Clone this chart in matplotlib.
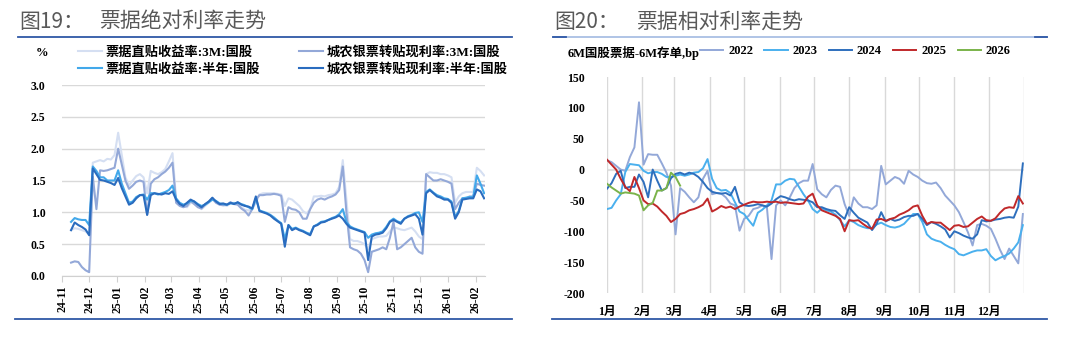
import matplotlib
matplotlib.use('Agg')
import matplotlib.pyplot as plt
from matplotlib.lines import Line2D
import numpy as np
import pandas as pd

plt.rcParams['font.family'] = ['Liberation Serif', 'Noto Sans CJK SC', 'DejaVu Sans']
plt.rcParams['font.weight'] = 'bold'
plt.rcParams['axes.unicode_minus'] = False

# ---------------- Left chart data (every 4 days from 2024-11-11) ----------------
left_start = '2024-11-11'
left_n = 115
bill_3m = [0.72, 0.75, 0.74, 0.72, 0.70, 0.66,
           1.78, 1.80, 1.82, 1.80, 1.84, 1.83, 1.90,
           2.25, 1.90, 1.55, 1.42, 1.50, 1.57, 1.60, 1.55,
           1.30, 1.65, 1.62, 1.60, 1.63, 1.68, 1.80, 1.93,
           1.20, 1.12, 1.10, 1.08, 1.15, 1.14, 1.10, 1.05, 1.10, 1.15, 1.20, 1.16, 1.12, 1.12, 1.10, 1.14, 1.15, 1.13, 1.08, 1.04, 1.03, 1.05,
           1.15, 1.28, 1.30, 1.30, 1.30, 1.30, 1.29, 1.28,
           1.10, 1.22, 1.20, 1.15, 1.10, 1.02, 0.98, 1.05, 1.25, 1.25, 1.26, 1.25, 1.27, 1.28, 1.30, 1.40, 1.82, 1.20,
           0.58, 0.55, 0.55, 0.53, 0.50, 0.42, 0.58, 0.60, 0.62, 0.62, 0.63, 0.70, 0.76, 0.75, 0.73, 0.72, 0.74, 0.76, 0.70, 0.62, 0.58,
           1.60, 1.63, 1.62, 1.62, 1.60, 1.60, 1.58, 1.55, 1.15, 1.25, 1.30, 1.32, 1.32, 1.32, 1.70, 1.65, 1.58]
rural_3m = [0.21, 0.23, 0.22, 0.14, 0.09, 0.06,
            1.56, 1.05, 1.66, 1.65, 1.66, 1.68, 1.70,
            2.00, 1.75, 1.50, 1.37, 1.42, 1.48, 1.50, 1.48,
            0.96, 1.45, 1.52, 1.55, 1.60, 1.64, 1.70, 1.78,
            1.15, 1.10, 1.08, 1.10, 1.18, 1.13, 1.08, 1.06, 1.12, 1.16, 1.22, 1.15, 1.12, 1.11, 1.12, 1.16, 1.13, 1.12, 1.06, 1.02, 0.95, 1.05,
            1.20, 1.27, 1.27, 1.28, 1.28, 1.29, 1.28, 1.26,
            0.85, 1.08, 1.05, 1.04, 1.00, 0.90, 0.90, 1.05, 1.15, 1.20, 1.22, 1.20, 1.23, 1.25, 1.28, 1.35, 1.72, 1.00,
            0.45, 0.42, 0.40, 0.35, 0.25, 0.06, 0.38, 0.40, 0.42, 0.45, 0.42, 0.60, 0.85, 0.42, 0.45, 0.50, 0.55, 0.60, 0.45, 0.38, 0.35,
            1.60, 1.55, 1.50, 1.50, 1.52, 1.50, 1.48, 1.45, 1.05, 1.15, 1.22, 1.22, 1.25, 1.25, 1.45, 1.43, 1.42]
bill_6m = [0.85, 0.91, 0.89, 0.88, 0.88, 0.80,
           1.72, 1.65, 1.55, 1.55, 1.50, 1.50, 1.50,
           1.66, 1.45, 1.30, 1.15, 1.17, 1.24, 1.27, 1.28,
           1.20, 1.30, 1.30, 1.28, 1.30, 1.32, 1.35, 1.42,
           1.22, 1.15, 1.12, 1.14, 1.18, 1.17, 1.13, 1.10, 1.12, 1.16, 1.20, 1.18, 1.14, 1.13, 1.12, 1.14, 1.14, 1.15, 1.13, 1.11, 1.08, 1.05,
           1.22, 1.03, 1.01, 0.99, 0.96, 0.92, 0.87, 0.83,
           0.58, 0.80, 0.74, 0.76, 0.73, 0.71, 0.68, 0.66, 0.78, 0.81, 0.85, 0.86, 0.88, 0.91, 0.93, 0.97, 1.05, 0.85,
           0.78, 0.75, 0.73, 0.71, 0.69, 0.60, 0.65, 0.67, 0.68, 0.70, 0.77, 0.86, 0.90, 0.86, 0.84, 0.90, 0.94, 0.96, 0.99, 1.00, 0.85,
           1.32, 1.36, 1.31, 1.27, 1.25, 1.22, 1.21, 1.17, 0.93, 1.02, 1.22, 1.23, 1.24, 1.24, 1.58, 1.45, 1.30]
rural_6m = [0.72, 0.84, 0.80, 0.77, 0.73, 0.64,
            1.69, 1.60, 1.51, 1.50, 1.48, 1.46, 1.43,
            1.54, 1.38, 1.25, 1.12, 1.15, 1.22, 1.27, 1.27,
            0.96, 1.27, 1.30, 1.29, 1.28, 1.30, 1.29, 1.33,
            1.20, 1.13, 1.10, 1.15, 1.20, 1.17, 1.12, 1.08, 1.13, 1.17, 1.23, 1.17, 1.13, 1.14, 1.12, 1.15, 1.13, 1.16, 1.12, 1.10, 1.09, 1.06,
            1.25, 1.02, 1.00, 0.98, 0.95, 0.90, 0.86, 0.82,
            0.46, 0.80, 0.72, 0.75, 0.72, 0.70, 0.67, 0.64, 0.78, 0.80, 0.84, 0.85, 0.88, 0.90, 0.92, 0.95, 0.90, 0.82,
            0.76, 0.74, 0.72, 0.70, 0.68, 0.25, 0.62, 0.65, 0.66, 0.68, 0.75, 0.85, 0.88, 0.85, 0.82, 0.90, 0.93, 0.95, 0.97, 0.90, 0.65,
            1.30, 1.35, 1.30, 1.25, 1.23, 1.20, 1.20, 1.15, 0.90, 1.00, 1.20, 1.21, 1.22, 1.22, 1.36, 1.33, 1.22]
left_labels = ['票据直贴收益率:3M:国股', '城农银票转贴现利率:3M:国股',
               '票据直贴收益率:半年:国股', '城农银票转贴现利率:半年:国股']
left_colors = ['#d5dff2', '#93a8d8', '#42a8ea', '#2a6cbf']
left_yticks = [0.0, 0.5, 1.0, 1.5, 2.0, 2.5, 3.0]

# ---------------- Right chart data (every 4 days, day-of-year 1..365) ----------------
right_step = 4
y2022 = [15, 12, 6, 0, -2, 20, 36, 109, 8, 25, 24, 24, 10, -5, -26, -105, -30, -36, -45, -53,
         -45, -15, -2, -40, -38, -39, -45, -55, -58, -99, -80, -75, -64, -62, -58, -62, -145, -58, -50, -58,
         -45, -30, -22, -18, -18, 9, -32, -40, -45, -33, -26, -28, -56, -75, -45, -55, -61, -61, -64, -58,
         6, -24, -18, -12, -15, -23, -2, -8, -12, -18, -22, -23, -21, -30, -42, -50, -58, -69, -85, -102,
         -123, -90, -88, -91, -96, -112, -130, -145, -128, -140, -152, -72]
y2023 = [-64, -62, -50, -40, -4, 9, 8, 7, -2, -6, -4, -4, -7, -12, -12, -10, -8, -10, -8, -5,
         -4, 2, 17, -15, -30, -34, -33, -38, -53, -68, -72, -82, -91, -70, -65, -58, -50, -24, -24, -18,
         -15, -16, -28, -40, -50, -64, -70, -63, -66, -68, -73, -82, -92, -82, -85, -90, -93, -95, -95, -89,
         -86, -90, -93, -94, -92, -88, -80, -72, -72, -85, -105, -112, -115, -117, -122, -126, -129, -137, -139, -136,
         -133, -131, -131, -129, -140, -147, -143, -140, -136, -128, -118, -90]
y2024 = [-31, -22, -7, -2, -30, -28, -28, -8, -20, -45, 0, -18, -34, -30, -14, -7, -5, -8, -5, -7,
         -12, -20, -30, -36, -38, -39, -38, -42, -28, -53, -58, -59, -58, -56, -58, -60, -55, -48, -43, -45,
         -48, -50, -48, -49, -50, -53, -61, -61, -64, -66, -67, -74, -80, -61, -70, -78, -82, -86, -98, -88,
         -69, -84, -80, -83, -81, -77, -75, -75, -72, -80, -90, -85, -88, -92, -97, -110, -100, -103, -107, -110,
         -112, -105, -82, -84, -83, -81, -80, -78, -77, -78, -60, 10]
y2025 = [16, 8, 0, -15, -28, -35, -12, -30, -50, -56, -55, -60, -68, -75, -85, -80, -72, -70, -66, -64,
         -61, -57, -47, -68, -64, -59, -62, -60, -64, -60, -57, -54, -52, -53, -53, -52, -53, -52, -54, -53,
         -54, -55, -56, -55, -44, -39, -58, -66, -69, -72, -75, -80, -100, -82, -83, -82, -88, -93, -96, -81,
         -80, -83, -80, -78, -73, -70, -66, -60, -58, -75, -88, -85, -86, -86, -92, -98, -91, -90, -93, -92,
         -86, -80, -76, -82, -83, -79, -70, -63, -61, -62, -43, -55]
y2026 = [-23, -29, -34, -39, -37, -38, -39, -42, -66, -58, -54, -34, -34, -30, -5, -12, -26]
right_years = ['2022', '2023', '2024', '2025', '2026']
right_colors = ['#93a8d8', '#4ab0ee', '#2e6fbd', '#c0282a', '#7ab34a']
right_month_starts = [1, 32, 60, 91, 121, 152, 182, 213, 244, 274, 305, 335]
right_month_labels = ['1月', '2月', '3月', '4月', '5月', '6月', '7月', '8月', '9月', '10月', '11月', '12月']
right_yticks = [-200, -150, -100, -50, 0, 50, 100, 150]

W, H = 1080, 345
fig = plt.figure(figsize=(W / 100, H / 100), dpi=100)


def fx(px):
    return px / W


def fy(py):
    return 1 - py / H


# ---------------- Headers and rules ----------------
title_font = dict(family=['Noto Sans CJK SC', 'DejaVu Sans'], fontsize=15, color='#595959',
                  weight='normal', va='center', ha='left')
fig.text(fx(19), fy(22), '图19：', **title_font)
fig.text(fx(99), fy(22), '票据绝对利率走势', **title_font)
fig.text(fx(554), fy(22), '图20：', **title_font)
fig.text(fx(636), fy(22), '票据相对利率走势', **title_font)

rule = '#2f58a6'
fig.add_artist(Line2D([fx(18), fx(512)], [fy(37), fy(37)], color=rule, lw=1.3))
fig.add_artist(Line2D([fx(15), fx(512)], [fy(319), fy(319)], color=rule, lw=1.3))
fig.add_artist(Line2D([fx(553), fx(1047)], [fy(37), fy(37)], color='#a9bfe4', lw=1.3))
fig.add_artist(Line2D([fx(553), fx(566)], [fy(37), fy(37)], color=rule, lw=1.3))
fig.add_artist(Line2D([fx(1035), fx(1047)], [fy(37), fy(37)], color=rule, lw=1.3))
fig.add_artist(Line2D([fx(552), fx(1047)], [fy(319), fy(319)], color=rule, lw=1.3))

# ---------------- Left chart ----------------
ax1 = fig.add_axes([fx(62), fy(276), fx(485) - fx(62), fy(85) - fy(276)])
left_dates = pd.date_range(left_start, periods=left_n, freq='4D')
series_left = [bill_3m, rural_3m, bill_6m, rural_6m]
handles = []
for vals, col, lab in zip(series_left, left_colors, left_labels):
    h, = ax1.plot(left_dates, vals, color=col, lw=1.5, label=lab, solid_joinstyle='round')
    handles.append(h)
ax1.set_xlim(pd.Timestamp('2024-11-01'), pd.Timestamp('2026-02-11'))
ax1.set_ylim(0, 3.0)
ax1.set_yticks(left_yticks)
ax1.set_yticklabels([f'{v:.1f}' for v in left_yticks])
month_ticks = pd.date_range('2024-11-01', '2026-02-01', freq='MS')
ax1.set_xticks(month_ticks)
ax1.set_xticklabels([d.strftime('%y-%m') for d in month_ticks], rotation=90)
ax1.yaxis.grid(True, color='#d9d9d9', lw=1.0)
ax1.set_axisbelow(True)
for s in ['top', 'right', 'left']:
    ax1.spines[s].set_visible(False)
ax1.spines['bottom'].set_color('#d0d0d0')
ax1.tick_params(axis='y', length=0, pad=12, labelsize=8.5)
ax1.tick_params(axis='x', length=4, color='#d0d0d0', pad=3, labelsize=8.5)
for t in ax1.get_yticklabels() + ax1.get_xticklabels():
    t.set_fontweight('bold')

fig.text(fx(36), fy(53), '%', fontsize=9, weight='bold', va='center', ha='left')
leg1 = fig.legend([handles[0], handles[2], handles[1], handles[3]],
                  [left_labels[0], left_labels[2], left_labels[1], left_labels[3]],
                  ncol=2, loc='center left', bbox_to_anchor=(fx(78), fy(61)),
                  frameon=False, fontsize=9.5, handlelength=1.8, handletextpad=0.25,
                  columnspacing=3.0, labelspacing=0.3, borderpad=0, borderaxespad=0)
for t in leg1.get_texts():
    t.set_fontweight('bold')

# ---------------- Right chart ----------------
ax2 = fig.add_axes([fx(607), fy(293), fx(1024) - fx(607), fy(77) - fy(293)])
days = np.arange(1, 366, right_step)
series_right = [y2022, y2023, y2024, y2025, y2026]
for vals, col, lab in zip(series_right, right_colors, right_years):
    ax2.plot(days[:len(vals)], vals, color=col, lw=1.4, label=lab, solid_joinstyle='round')
ax2.set_xlim(1, 366)
ax2.set_ylim(-200, 150)
ax2.set_yticks(right_yticks)
ax2.set_yticklabels([str(v) for v in right_yticks])
ax2.set_xticks(right_month_starts)
ax2.set_xticklabels(right_month_labels)
ax2.xaxis.grid(True, color='#d9d9d9', lw=1.0)
ax2.axvline(366, color='#d9d9d9', lw=1.0, zorder=0)
ax2.axhline(0, color='#e0e0e0', lw=1.5, zorder=0)
ax2.set_axisbelow(True)
for s in ax2.spines.values():
    s.set_visible(False)
ax2.tick_params(axis='y', length=0, pad=16, labelsize=8.5)
ax2.tick_params(axis='x', length=0, pad=9, labelsize=8.5)
for t in ax2.get_yticklabels() + ax2.get_xticklabels():
    t.set_fontweight('bold')

fig.text(fx(568), fy(53), '6M国股票据-6M存单,bp', fontsize=9, weight='bold', va='center', ha='left')
leg2 = ax2.legend(ncol=5, loc='center left', bbox_to_anchor=(fx(700), fy(51)),
                  bbox_transform=fig.transFigure, frameon=False, fontsize=9,
                  handlelength=1.85, handletextpad=0.4, columnspacing=0.9,
                  borderpad=0, borderaxespad=0)
for t in leg2.get_texts():
    t.set_fontweight('bold')

fig.savefig('out.png', dpi=100)
